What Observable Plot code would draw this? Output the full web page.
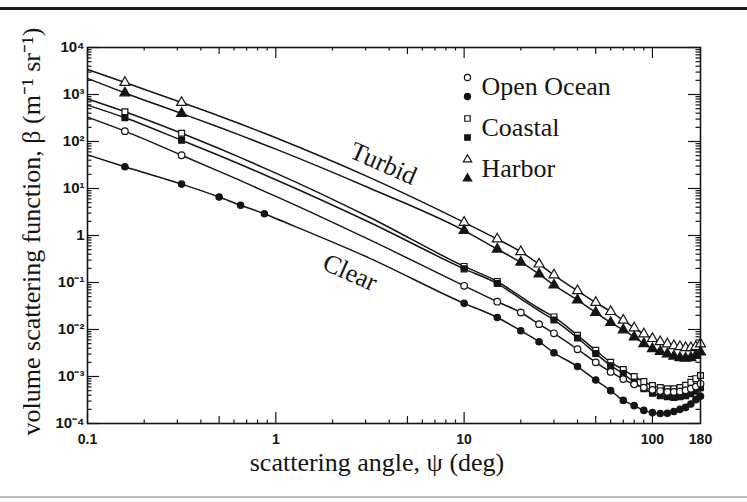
<!DOCTYPE html>
<html>
<head>
<meta charset="utf-8">
<script src="https://cdn.jsdelivr.net/npm/d3@7"></script>
<script src="https://cdn.jsdelivr.net/npm/@observablehq/plot@0.6"></script>
<style>
  body { margin: 0; background: #fff; }
  #wrap { position: relative; width: 747px; height: 502px; overflow: hidden; background: #fff; }
  #wrap svg { position: absolute; left: 0; top: 0; }
  .rule-top { position: absolute; left: 0; top: 7px; width: 747px; height: 2.5px; background: #1a1a1a; }
  .rule-bottom { position: absolute; left: 0; top: 496px; width: 747px; height: 1.5px; background: #bdbdbd; }
</style>
</head>
<body>
<div id="wrap"><div class="rule-top"></div><div class="rule-bottom"></div></div>
<script>
// scattering angle (deg)
const angles = [0.1, 0.158, 0.316, 0.5, 0.65, 0.87, 1, 3.16, 10, 15, 20, 25, 30, 40, 50, 60, 70, 80, 90, 100, 110, 120, 130, 140, 150, 160, 170, 180];

// volume scattering function (m^-1 sr^-1)
const harborOpen    = [3400, 1800, 676, 350, 236, 150, 120, 17.0, 1.9, 0.84, 0.45, 0.246, 0.144, 0.0665, 0.0375, 0.024, 0.0157, 0.0108, 0.0080, 0.0064, 0.0055, 0.0049, 0.0045, 0.0043, 0.0041, 0.0041, 0.0043, 0.0049];
const harborFilled  = [2200, 1080, 395, 201, 135, 85.5, 68.7, 10.1, 1.27, 0.51, 0.27, 0.151, 0.088, 0.0423, 0.023, 0.014, 0.0098, 0.0069, 0.0050, 0.0039, 0.0034, 0.0030, 0.0027, 0.0025, 0.00245, 0.0025, 0.0028, 0.0033];
const coastalOpen   = [800, 430, 150, 70.8, 45.3, 27.2, 21.3, 2.42, 0.22, 0.105, 0.05, 0.028, 0.0185, 0.0075, 0.0036, 0.0020, 0.0014, 0.0010, 0.00078, 0.00064, 0.00058, 0.00055, 0.00055, 0.00058, 0.00065, 0.00075, 0.0009, 0.00105];
const coastalFilled = [594, 320, 106, 50.2, 32.4, 19.6, 15.4, 1.89, 0.195, 0.095, 0.045, 0.025, 0.016, 0.0066, 0.0031, 0.0017, 0.00115, 0.00075, 0.00055, 0.00044, 0.00039, 0.00037, 0.00036, 0.00037, 0.00039, 0.00043, 0.00049, 0.00058];
const oceanOpen     = [330, 166, 51, 23.2, 14.7, 8.7, 6.8, 0.805, 0.085, 0.039, 0.023, 0.013, 0.0083, 0.0038, 0.0020, 0.00125, 0.00088, 0.00068, 0.00058, 0.00052, 0.00049, 0.00047, 0.00047, 0.00048, 0.00051, 0.00055, 0.00061, 0.0007];
const oceanFilled   = [52, 29, 12.4, 6.6, 4.4, 2.9, 2.3, 0.327, 0.036, 0.018, 0.0094, 0.0055, 0.0032, 0.00163, 0.00084, 0.0005, 0.00031, 0.00024, 0.00019, 0.00017, 0.000163, 0.000165, 0.00018, 0.0002, 0.00022, 0.00026, 0.00032, 0.00038];

// which angle indices carry a marker
const farMarks = d3.range(8, 28);
const marksClear = [1, 2, 3, 4, 5, ...farMarks];
const marksStd = [1, 2, ...farMarks];
const marksCoastal = [1, 2, ...farMarks.filter(i => i !== 10 && i !== 11)];

const series = [
  {name: "Harbor open", values: harborOpen, symbol: "triangle", open: true, marks: marksStd, r: 3.7},
  {name: "Harbor filled", values: harborFilled, symbol: "triangle", open: false, marks: marksStd, r: 3.7},
  {name: "Coastal open", values: coastalOpen, symbol: "square", open: true, marks: marksCoastal, r: 3.3},
  {name: "Coastal filled", values: coastalFilled, symbol: "square", open: false, marks: marksCoastal, r: 3.3},
  {name: "Open Ocean open", values: oceanOpen, symbol: "circle", open: true, marks: marksStd, r: 3.3},
  {name: "Open Ocean filled", values: oceanFilled, symbol: "circle", open: false, marks: marksClear, r: 3.2}
];

// legend & labels
const legendLabels = ["Open Ocean", "Coastal", "Harbor"];
const legendSymbols = ["circle", "square", "triangle"];
const xTickLabels = [0.1, 1, 10, 100, 180];
const xMajorTicks = [0.1, 1, 10, 100];
const xMidTicks = [0.5, 5, 50];
const xMinorTicks = [0.1, 1, 10].flatMap(d => [2, 3, 4, 6, 7, 8, 9].map(k => k * d));
const yTickValues = [1e-4, 1e-3, 1e-2, 1e-1, 1, 1e1, 1e2, 1e3, 1e4];
const yMinorTicks = yTickValues.slice(0, -1).flatMap(d => [2, 3, 4, 5, 6, 7, 8, 9].map(k => k * d));
const annotations = [
  {text: "Turbid", angle: 3.73, value: 34},
  {text: "Clear", angle: 2.48, value: 0.163}
];

const W = 747, H = 502;
const mL = 87, mR = 47, mT = 47, mB = 79;
const FW = W - mL - mR, FH = H - mT - mB;
const ink = "#151515";
const serif = "'Liberation Serif', 'Times New Roman', serif";
const sans = "'Liberation Sans', Arial, sans-serif";

const sup = {"0":"⁰","1":"¹","2":"²","3":"³","4":"⁴","5":"⁵","6":"⁶","7":"⁷","8":"⁸","9":"⁹","-":"⁻"};
const yFmt = d => {
  const e = Math.round(Math.log10(d));
  return e === 0 ? "1" : "10" + String(e).split("").map(c => sup[c]).join("");
};

const rows = series.flatMap(s => angles.map((a, i) => ({series: s.name, angle: a, value: s.values[i]})));

function xTicks(vals, len) {
  return [
    Plot.tickX(vals, {x: d => d, insetTop: FH - len, stroke: ink, strokeWidth: 1.2}),
    Plot.tickX(vals, {x: d => d, insetBottom: FH - len, stroke: ink, strokeWidth: 1.2})
  ];
}
function yTicks(vals, len) {
  return [
    Plot.tickY(vals, {y: d => d, insetRight: FW - len, stroke: ink, strokeWidth: 1.2}),
    Plot.tickY(vals, {y: d => d, insetLeft: FW - len, stroke: ink, strokeWidth: 1.2})
  ];
}

const legendMarks = legendLabels.flatMap((label, i) => {
  const base = 30 + 41 * i;
  return [
    Plot.dot([0], {frameAnchor: "top-left", dx: 380, dy: base, symbol: legendSymbols[i], r: 3.1, fill: "white", stroke: ink, strokeWidth: 1.2}),
    Plot.dot([0], {frameAnchor: "top-left", dx: 380, dy: base + 19, symbol: legendSymbols[i], r: 3.1, fill: ink, stroke: ink, strokeWidth: 1.2}),
    Plot.text([label], {frameAnchor: "top-left", dx: 394, dy: base + 9.5, text: d => d, textAnchor: "start", lineAnchor: "middle", fontSize: 26, fontFamily: serif, fill: ink})
  ];
});

const chart = Plot.plot({
  width: W, height: H,
  marginLeft: mL, marginRight: mR, marginTop: mT, marginBottom: mB,
  style: {fontFamily: sans, background: "transparent", color: ink},
  x: {type: "log", domain: [0.1, 180], axis: null},
  y: {type: "log", domain: [1e-4, 1e4], axis: null},
  marks: [
    ...xTicks(xMinorTicks, 3.5),
    ...xTicks(xMidTicks, 7),
    ...xTicks(xMajorTicks, 11),
    ...yTicks(yMinorTicks, 4.5),
    ...yTicks(yTickValues, 12),
    Plot.line(rows, {x: "angle", y: "value", z: "series", curve: "monotone-x", stroke: ink, strokeWidth: 1.5}),
    ...series.map(s => Plot.dot(s.marks.map(i => ({angle: angles[i], value: s.values[i]})), {
      x: "angle", y: "value", symbol: s.symbol, r: s.r,
      fill: s.open ? "white" : ink, stroke: ink, strokeWidth: 1.2
    })),
    Plot.frame({stroke: ink, strokeWidth: 1.6}),
    // tick labels
    Plot.text(xTickLabels, {x: d => d, frameAnchor: "bottom", dy: 16, text: d => String(d), textAnchor: "middle", lineAnchor: "middle", fontSize: 14, fontWeight: 600, fontFamily: sans, fill: ink}),
    Plot.text(yTickValues, {y: d => d, frameAnchor: "left", dx: -3, dy: 0, text: yFmt, textAnchor: "end", lineAnchor: "middle", fontSize: 15, fontWeight: 600, fontFamily: sans, fill: ink}),
    Plot.text(annotations, {x: "angle", y: "value", text: "text", rotate: 24, fontSize: 26, fontFamily: serif, fill: ink}),
    Plot.text(["scattering angle, ψ (deg)"], {frameAnchor: "bottom", dx: -17, dy: 39, textAnchor: "middle", lineAnchor: "middle", fontSize: 26, fontFamily: serif, fill: ink}),
    Plot.text(["volume scattering function, β (m⁻¹ sr⁻¹)"], {frameAnchor: "left", dx: -56, dy: -4, rotate: -90, textAnchor: "middle", lineAnchor: "middle", fontSize: 26, fontFamily: serif, fill: ink}),
    ...legendMarks
  ]
});
document.getElementById("wrap").appendChild(chart);
</script>
</body>
</html>
